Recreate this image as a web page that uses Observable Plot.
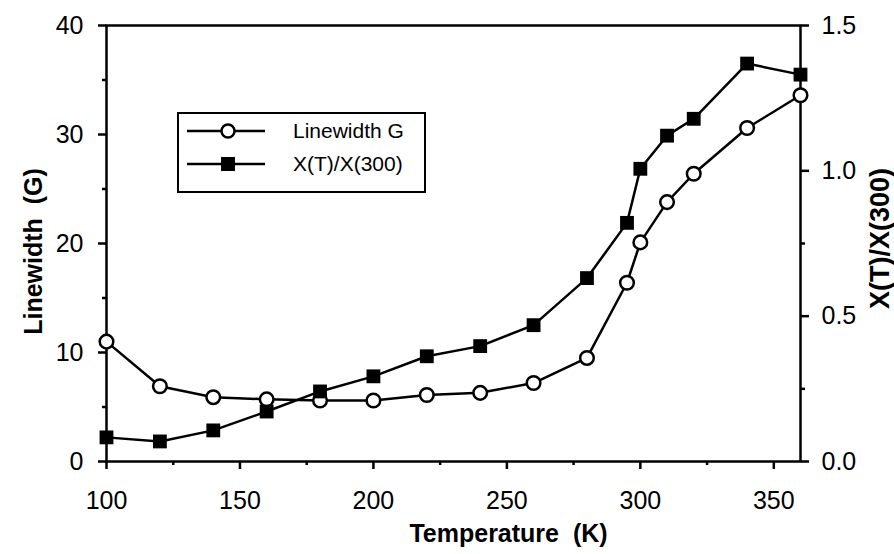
<!DOCTYPE html>
<html><head><meta charset="utf-8">
<script src="https://cdn.jsdelivr.net/npm/d3@7"></script>
<script src="https://cdn.jsdelivr.net/npm/@observablehq/plot@0.6"></script>
<style>body{margin:0;background:#fff;}</style>
</head><body><div id="chart"></div>
<script>
const temperature = [100,120,140,160,180,200,220,240,260,280,295,300,310,320,340,360];
const linewidthG  = [11.0,6.9,5.9,5.7,5.6,5.6,6.1,6.3,7.2,9.5,16.4,20.1,23.8,26.4,30.6,33.6];
const chiRatio    = [0.083,0.069,0.107,0.172,0.241,0.293,0.362,0.397,0.469,0.631,0.821,1.007,1.121,1.179,1.369,1.331];
const xTicks = [100,150,200,250,300,350];
const xMinorTicks = [125,175,225,275,325];
const leftTicks = [0,10,20,30,40];
const leftMinorTicks = [5,15,25,35];
const rightTicks = [0,0.5,1.0,1.5];
const rightMinorTicks = [0.25,0.75,1.25];
const seriesNames = ["Linewidth G","X(T)/X(300)"];
const xTitle = "Temperature\u00a0\u00a0(K)";
const leftTitle = "Linewidth\u00a0\u00a0(G)";
const rightTitle = "X(T)/X(300)";
const leftMax = 40, rightMax = 1.5;
const toLeft = v => v * leftMax / rightMax;

const lwData = temperature.map((t,i)=>({t, v: linewidthG[i]}));
const chiData = temperature.map((t,i)=>({t, v: toLeft(chiRatio[i])}));

const font = "'Liberation Sans', Arial, Helvetica, sans-serif";
const svg = Plot.plot({
  width: 894, height: 554,
  marginLeft: 106, marginRight: 94, marginTop: 25, marginBottom: 93,
  style: {fontFamily: font, fontSize: "25px", color: "black", background: "white", overflow: "visible"},
  x: {domain: [100, 360]},
  y: {domain: [0, leftMax]},
  marks: [
    Plot.frame({stroke: "black", strokeWidth: 2.5}),
    Plot.axisX({ticks: xTicks, tickSize: 8, tickPadding: 22, strokeWidth: 2.5, label: null, tickFormat: d => String(d)}),
    Plot.axisX({ticks: xMinorTicks, tickSize: 4, strokeWidth: 2.5, label: null, tickFormat: () => ""}),
    Plot.axisY({ticks: leftTicks, tickSize: 8, tickPadding: 15, strokeWidth: 2.5, label: null, tickFormat: d => String(d)}),
    Plot.axisY({ticks: leftMinorTicks, tickSize: 4, strokeWidth: 2.5, label: null, tickFormat: () => ""}),
    Plot.axisY({anchor: "right", ticks: rightTicks.map(toLeft), tickSize: 8, tickPadding: 13, strokeWidth: 2.5, label: null, tickFormat: d => (d * rightMax / leftMax).toFixed(1)}),
    Plot.axisY({anchor: "right", ticks: rightMinorTicks.map(toLeft), tickSize: 4, strokeWidth: 2.5, label: null, tickFormat: () => ""}),
    Plot.line(lwData, {x: "t", y: "v", stroke: "black", strokeWidth: 2.5}),
    Plot.line(chiData, {x: "t", y: "v", stroke: "black", strokeWidth: 2.5}),
    Plot.dot(lwData, {x: "t", y: "v", r: 6.8, fill: "white", stroke: "black", strokeWidth: 2.5}),
    Plot.dot(chiData, {x: "t", y: "v", r: 7.8, symbol: "square", fill: "black", stroke: "none"}),
    Plot.text([xTitle], {frameAnchor: "bottom", text: d => d, textAnchor: "middle", lineAnchor: "middle", dx: 55, dy: 72, fontWeight: "bold", fontSize: 25, fill: "black"}),
    Plot.text([leftTitle], {frameAnchor: "left", text: d => d, textAnchor: "middle", lineAnchor: "middle", rotate: -90, dx: -73, dy: 8, fontWeight: "bold", fontSize: 25, fill: "black"}),
    Plot.text([rightTitle], {frameAnchor: "right", text: d => d, textAnchor: "middle", lineAnchor: "middle", rotate: -90, dx: 80, dy: -5, fontWeight: "bold", fontSize: 27, fill: "black"})
  ]
});
document.getElementById("chart").appendChild(svg);

// legend
const lg = d3.select(svg).append("g").attr("font-family", font).attr("text-anchor", "start");
lg.append("rect").attr("x", 178).attr("y", 113).attr("width", 247).attr("height", 79)
  .attr("fill", "white").attr("stroke", "black").attr("stroke-width", 2);
const rows = [131, 164];
seriesNames.forEach((name, i) => {
  const y = rows[i];
  lg.append("line").attr("x1", 187).attr("x2", 265).attr("y1", y).attr("y2", y)
    .attr("stroke", "black").attr("stroke-width", 2.5);
  if (i === 0) {
    lg.append("circle").attr("cx", 228).attr("cy", y).attr("r", 6.5)
      .attr("fill", "white").attr("stroke", "black").attr("stroke-width", 2.5);
  } else {
    lg.append("rect").attr("x", 221).attr("y", y - 7).attr("width", 14).attr("height", 14).attr("fill", "black");
  }
  lg.append("text").attr("x", 293).attr("y", y).attr("dy", "0.35em").attr("text-anchor", "start")
    .attr("font-size", 21).attr("fill", "black").text(name);
});
</script>
</body></html>
